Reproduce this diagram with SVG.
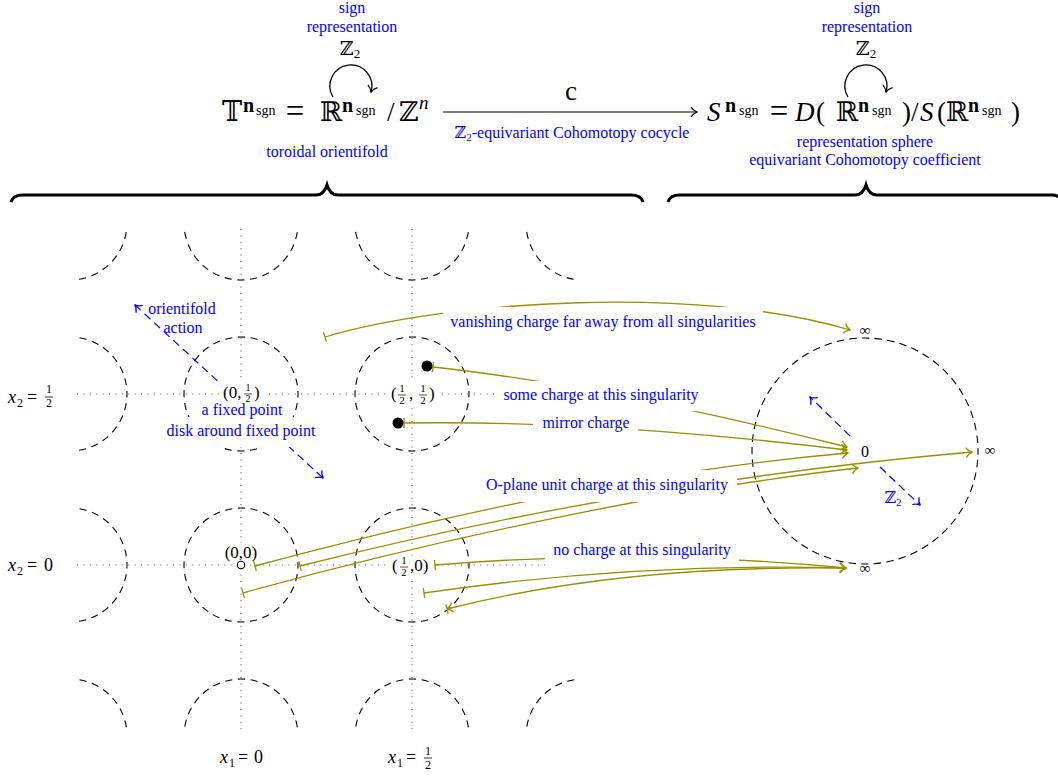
<svg xmlns="http://www.w3.org/2000/svg" width="1058" height="777" viewBox="0 0 1058 777">
<defs>
<style>
text{font-family:"Liberation Serif","DejaVu Serif",serif;fill:#000}
.b{fill:#0000ff;font-size:16px}
.m{font-size:27px}
.eq{font-size:33px}
.it{font-style:italic}
.bf{font-weight:bold;font-size:20px}
.sg{font-size:14px}
.c{text-anchor:middle}
.grid{fill:none;stroke:#000;stroke-width:1.1;stroke-dasharray:7.2 5.59;stroke-dashoffset:3.6}
.big{fill:none;stroke:#000;stroke-width:1.1;stroke-dasharray:7.5 5.18;stroke-dashoffset:3.75}
.dot{stroke:#555;stroke-width:1.2;stroke-dasharray:1 5.4;fill:none}
.ol{fill:none;stroke:#999000;stroke-width:1.3}
.bl{fill:none;stroke:#0000ff;stroke-width:1.2;stroke-dasharray:8 5}
.box{fill:#fff}
</style>
<clipPath id="gc"><rect x="77" y="229" width="500" height="500"/></clipPath>
<marker id="obar" markerUnits="userSpaceOnUse" viewBox="-10 -10 20 20" markerWidth="20" markerHeight="20" refX="0" refY="0" orient="auto"><path d="M0,-5 V5" fill="none" stroke="#999000" stroke-width="1.3"/></marker>
<marker id="oarr" markerUnits="userSpaceOnUse" viewBox="-10 -10 20 20" markerWidth="20" markerHeight="20" refX="0" refY="0" orient="auto"><path d="M-6,-5 C-4,-2 -1.5,-0.5 0.5,0 C-1.5,0.5 -4,2 -6,5" fill="none" stroke="#999000" stroke-width="1.3"/></marker>
<marker id="obararr" markerUnits="userSpaceOnUse" viewBox="-10 -10 20 20" markerWidth="20" markerHeight="20" refX="0" refY="0" orient="auto-start-reverse"><path d="M0,-5 V5 M-6,-5 C-4,-2 -1.5,-0.5 0.5,0 C-1.5,0.5 -4,2 -6,5" fill="none" stroke="#999000" stroke-width="1.3"/></marker>
<marker id="barr" markerUnits="userSpaceOnUse" viewBox="-10 -10 20 20" markerWidth="20" markerHeight="20" refX="0" refY="0" orient="auto-start-reverse"><path d="M-6,-5 C-4,-2 -1.5,-0.5 0.5,0 C-1.5,0.5 -4,2 -6,5" fill="none" stroke="#0000ff" stroke-width="1.2"/></marker>
<marker id="karr" markerUnits="userSpaceOnUse" viewBox="-10 -10 20 20" markerWidth="20" markerHeight="20" refX="0" refY="0" orient="auto"><path d="M-6,-5 C-4,-2 -1.5,-0.5 0.5,0 C-1.5,0.5 -4,2 -6,5" fill="none" stroke="#000" stroke-width="1.2"/></marker>
</defs>

<g id="formula-left">
<text class="m" x="222" y="121">𝕋</text>
<text class="bf" x="243" y="112">n</text>
<text class="sg" x="256" y="115">sgn</text>
<text class="eq c" x="295" y="122">=</text>
<text class="m" x="320" y="121">ℝ</text>
<text class="bf" x="342" y="112">n</text>
<text class="sg" x="356" y="115">sgn</text>
<text class="m" x="387" y="121">/</text>
<text class="m" x="399" y="121">ℤ</text>
<text class="it" x="419" y="109" font-size="19">n</text>
<path d="M333,97 A21,21 0 1 1 371,92" fill="none" stroke="#000" stroke-width="1.3" marker-end="url(#karr)"/>
<text class="c" x="350" y="55" font-size="19">ℤ<tspan font-size="13" dy="3">2</tspan></text>
<text class="b c" x="352" y="13">sign</text>
<text class="b c" x="352" y="32">representation</text>
<text class="b c" x="327" y="157">toroidal orientifold</text>
</g>

<g id="cocycle-arrow">
<path d="M443,112 H697" fill="none" stroke="#000" stroke-width="1.2" marker-end="url(#karr)"/>
<text class="c" x="571" y="100" font-size="27">c</text>
<text class="b c" x="572" y="138">ℤ<tspan font-size="11" dy="3">2</tspan><tspan dy="-3">-equivariant Cohomotopy cocycle</tspan></text>
</g>

<g id="formula-right">
<text class="m it" x="707" y="121">S</text>
<text class="bf" x="725" y="112">n</text>
<text class="sg" x="739" y="115">sgn</text>
<text class="eq c" x="779" y="122">=</text>
<text class="m it" x="795" y="121">D</text>
<text class="m" x="816" y="121">(</text>
<text class="m" x="836" y="121">ℝ</text>
<text class="bf" x="858" y="112">n</text>
<text class="sg" x="872" y="115">sgn</text>
<text class="m" x="902" y="121">)</text>
<text class="m" x="911" y="121">/</text>
<text class="m it" x="920" y="121">S</text>
<text class="m" x="937" y="121">(</text>
<text class="m" x="946" y="121">ℝ</text>
<text class="bf" x="968" y="112">n</text>
<text class="sg" x="982" y="115">sgn</text>
<text class="m" x="1011" y="121">)</text>
<path d="M848,97 A21,21 0 1 1 886,92" fill="none" stroke="#000" stroke-width="1.3" marker-end="url(#karr)"/>
<text class="c" x="866" y="55" font-size="19">ℤ<tspan font-size="13" dy="3">2</tspan></text>
<text class="b c" x="867" y="13">sign</text>
<text class="b c" x="867" y="32">representation</text>
<text class="b c" x="865" y="147">representation sphere</text>
<text class="b c" x="865" y="165">equivariant Cohomotopy coefficient</text>
</g>

<g id="braces" fill="none" stroke="#000" stroke-width="3">
<path d="M11,202 Q13,195 23,195 L316,195 Q324,195 327,185 Q330,195 338,195 L631,195 Q641,195 643,202"/>
<path d="M668,202 Q670,195 680,195 L855,195 Q863,195 866,185 Q869,195 877,195 L1052,195 Q1060,195 1062,202"/>
</g>

<g id="torus-grid">
<g clip-path="url(#gc)">
<circle class="grid" cx="70" cy="223" r="57"/>
<circle class="grid" cx="241" cy="223" r="57"/>
<circle class="grid" cx="412" cy="223" r="57"/>
<circle class="grid" cx="583" cy="223" r="57"/>
<circle class="grid" cx="70" cy="394" r="57"/>
<circle class="grid" cx="241" cy="394" r="57"/>
<circle class="grid" cx="412" cy="394" r="57"/>
<circle class="grid" cx="70" cy="565" r="57"/>
<circle class="grid" cx="241" cy="565" r="57"/>
<circle class="grid" cx="412" cy="565" r="57"/>
<circle class="grid" cx="70" cy="736" r="57"/>
<circle class="grid" cx="241" cy="736" r="57"/>
<circle class="grid" cx="412" cy="736" r="57"/>
<circle class="grid" cx="583" cy="736" r="57"/>
</g>
<path class="dot" d="M77,394 H577 M77,565 H577 M241,229 V729 M412,229 V729"/>
</g>

<g id="axis-labels">
<text class="it" x="8" y="403" font-size="18">x</text>
<text x="17" y="407" font-size="12">2</text>
<text x="27" y="403" font-size="18">=</text>
<text class="c" x="49" y="393" font-size="12">1</text>
<path d="M45,397 H53" stroke="#000" stroke-width="0.8"/>
<text class="c" x="49" y="407" font-size="12">2</text>
<text class="it" x="8" y="571" font-size="18">x</text>
<text x="17" y="575" font-size="12">2</text>
<text x="27" y="571" font-size="18">=</text>
<text x="44" y="571" font-size="18">0</text>
<text class="it" x="220" y="763" font-size="18">x</text>
<text x="229" y="767" font-size="12">1</text>
<text x="238" y="763" font-size="18">=</text>
<text x="254" y="763" font-size="18">0</text>
<text class="it" x="388" y="763" font-size="18">x</text>
<text x="397" y="767" font-size="12">1</text>
<text x="406" y="763" font-size="18">=</text>
<text class="c" x="428" y="755" font-size="12">1</text>
<path d="M424,758 H432" stroke="#000" stroke-width="0.8"/>
<text class="c" x="428" y="769" font-size="12">2</text>
</g>

<g id="orientifold-action">
<path class="bl" d="M135,305 L323,478" marker-start="url(#barr)" marker-end="url(#barr)"/>
<text class="b c" x="182" y="314">orientifold</text>
<text class="b c" x="183" y="333">action</text>
</g>

<g id="right-sphere">
<circle class="big" cx="865" cy="451" r="113"/>
<path class="bl" d="M850,436 L810,397" marker-end="url(#barr)"/>
<path class="bl" d="M880,467 L920,505" marker-end="url(#barr)"/>
<text class="c" x="865" y="457" font-size="16">0</text>
<text class="c" x="865" y="335" font-size="15">∞</text>
<text class="c" x="990" y="455" font-size="15">∞</text>
<text class="c" x="865" y="573" font-size="15">∞</text>
<text class="b c" x="893" y="503">ℤ<tspan font-size="11" dy="3">2</tspan></text>
</g>

<g id="connectors">
<path class="ol" d="M325,337 C450,300 700,285 850,330" marker-start="url(#obar)" marker-end="url(#oarr)"/>
<path class="ol" d="M433,367 Q600,385 847,447" marker-start="url(#obar)" marker-end="url(#oarr)"/>
<path class="ol" d="M404,423 Q600,420 847,450" marker-start="url(#obar)" marker-end="url(#oarr)"/>
<path class="ol" d="M255,566 Q593,475 848,453" marker-start="url(#obar)" marker-end="url(#oarr)"/>
<path class="ol" d="M300,566 Q639,481 972,452" marker-start="url(#obar)" marker-end="url(#oarr)"/>
<path class="ol" d="M243,593 C450,535 700,485 858,468" marker-start="url(#obar)" marker-end="url(#oarr)"/>
<path class="ol" d="M435,565 Q640,548 846,568" marker-start="url(#obar)" marker-end="url(#oarr)"/>
<path class="ol" d="M424,593 Q637,562 846,568" marker-start="url(#obar)" marker-end="url(#oarr)"/>
<path class="ol" d="M447,609 Q620,565 846,568" marker-start="url(#obararr)" marker-end="url(#oarr)"/>
</g>

<g id="fixed-point-0-half">
<rect class="box" x="219" y="382" width="45" height="22"/>
<rect class="box" x="193" y="400" width="98" height="17"/>
<rect class="box" x="159" y="417" width="165" height="30"/>
<text x="223" y="398" font-size="17">(0,</text>
<text class="c" x="248" y="391" font-size="10">1</text>
<path d="M244,394 H252" stroke="#000" stroke-width="0.7"/>
<text class="c" x="248" y="402" font-size="10">2</text>
<text x="254" y="398" font-size="17">)</text>
<text class="b c" x="242" y="415">a fixed point</text>
<text class="b c" x="241" y="436">disk around fixed point</text>
</g>

<g id="fixed-point-half-half">
<rect class="box" x="388" y="382" width="51" height="24"/>
<text x="391" y="399" font-size="17">(</text>
<text class="c" x="402" y="392" font-size="11">1</text>
<path d="M398,395 H406" stroke="#000" stroke-width="0.7"/>
<text class="c" x="402" y="404" font-size="11">2</text>
<text x="409" y="399" font-size="17">,</text>
<text class="c" x="423" y="392" font-size="11">1</text>
<path d="M419,395 H427" stroke="#000" stroke-width="0.7"/>
<text class="c" x="423" y="404" font-size="11">2</text>
<text x="429" y="399" font-size="17">)</text>
<circle cx="427" cy="366" r="5.5" fill="#000"/>
<circle cx="398" cy="423" r="5.5" fill="#000"/>
</g>

<g id="fixed-point-0-0">
<rect class="box" x="222" y="543" width="39" height="18"/>
<text class="c" x="241" y="558" font-size="17">(0,0)</text>
<circle cx="241" cy="565" r="3.7" fill="#fff" stroke="#000" stroke-width="1.1"/>
</g>

<g id="fixed-point-half-0">
<rect class="box" x="389" y="556" width="45" height="22"/>
<text x="392" y="571" font-size="17">(</text>
<text class="c" x="404" y="564" font-size="11">1</text>
<path d="M400,567 H408" stroke="#000" stroke-width="0.7"/>
<text class="c" x="404" y="576" font-size="11">2</text>
<text x="410" y="571" font-size="17">,0)</text>
</g>

<g id="label-vanishing">
<rect class="box" x="443" y="307" width="320" height="31"/>
<text class="b c" x="603" y="327">vanishing charge far away from all singularities</text>
</g>
<g id="label-some-charge">
<rect class="box" x="495" y="381" width="212" height="30"/>
<text class="b c" x="601" y="400">some charge at this singularity</text>
</g>
<g id="label-mirror">
<rect class="box" x="533" y="410" width="105" height="28"/>
<text class="b c" x="586" y="428">mirror charge</text>
</g>
<g id="label-oplane">
<rect class="box" x="477" y="470" width="260" height="32"/>
<text class="b c" x="607" y="490">O-plane unit charge at this singularity</text>
</g>
<g id="label-no-charge">
<rect class="box" x="545" y="536" width="194" height="31"/>
<text class="b c" x="642" y="555">no charge at this singularity</text>
</g>
</svg>
